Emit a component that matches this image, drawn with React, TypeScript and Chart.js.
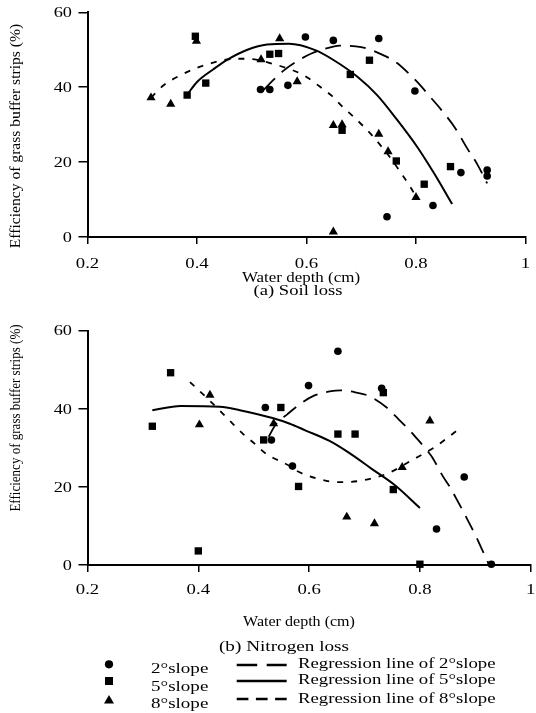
import React, { useEffect, useRef } from "react";
import { Chart, registerables } from "chart.js";

Chart.register(...registerables);

// ---------- axis ticks ----------
const X_TICKS = [0.2, 0.4, 0.6, 0.8, 1];
const X_TICK_LABELS = ["0.2", "0.4", "0.6", "0.8", "1"];
const Y_TICKS = [0, 20, 40, 60];
const Y_TICK_LABELS = ["0", "20", "40", "60"];

// ---------- (a) Soil loss : observed points ----------
const soil2X = [0.516, 0.533, 0.566, 0.598, 0.649, 0.732, 0.798, 0.882, 0.93, 0.93, 0.831, 0.747];
const soil2Y = [39.4, 39.4, 40.5, 53.4, 52.5, 53.0, 39.0, 17.2, 17.9, 16.3, 8.4, 5.4];
const soil5X = [0.397, 0.382, 0.416, 0.533, 0.549, 0.715, 0.68, 0.665, 0.764, 0.863, 0.815];
const soil5Y = [53.6, 37.9, 41.1, 48.8, 49.0, 47.2, 43.4, 28.5, 20.3, 18.8, 14.1];
const soil8X = [0.399, 0.316, 0.352, 0.551, 0.517, 0.583, 0.649, 0.665, 0.732, 0.749, 0.8, 0.649];
const soil8Y = [52.3, 37.2, 35.5, 53.0, 47.4, 41.5, 29.8, 30.0, 27.5, 22.8, 10.6, 1.4];

// ---------- (a) Soil loss : regression lines ----------
const soilReg2X = [0.522, 0.54, 0.557, 0.588, 0.609, 0.64, 0.66, 0.69, 0.711, 0.741, 0.763, 0.79, 0.808, 0.826, 0.842, 0.872, 0.893, 0.912, 0.93];
const soilReg2Y = [39.3, 42.0, 44.3, 47.4, 49.0, 50.5, 51.1, 50.9, 50.3, 48.5, 46.7, 43.2, 40.5, 37.4, 34.7, 29.0, 23.8, 19.4, 14.3];
const soilReg5X = [0.382, 0.4, 0.43, 0.455, 0.492, 0.528, 0.568, 0.616, 0.65, 0.693, 0.729, 0.766, 0.802, 0.833, 0.866];
const soilReg5Y = [38.0, 41.4, 44.8, 47.3, 50.0, 51.4, 51.6, 49.9, 47.2, 42.8, 37.9, 31.2, 24.1, 17.0, 8.8];
const soilReg8X = [0.316, 0.339, 0.37, 0.4, 0.428, 0.455, 0.483, 0.51, 0.537, 0.566, 0.595, 0.623, 0.647, 0.665, 0.686, 0.705, 0.723, 0.74, 0.757, 0.772, 0.787, 0.8];
const soilReg8Y = [37.2, 40.5, 43.2, 45.2, 46.5, 47.4, 47.6, 47.3, 46.3, 45.0, 43.2, 40.3, 37.6, 34.9, 32.1, 29.4, 26.6, 23.6, 20.4, 17.2, 14.0, 10.8];

// ---------- (b) Nitrogen loss : observed points ----------
const nit2X = [0.521, 0.532, 0.57, 0.599, 0.652, 0.731, 0.88, 0.83, 0.929];
const nit2Y = [40.3, 32.0, 25.3, 45.9, 54.7, 45.2, 22.5, 9.2, 0.2];
const nit5X = [0.317, 0.35, 0.4, 0.549, 0.518, 0.652, 0.683, 0.734, 0.752, 0.581, 0.8];
const nit5Y = [35.5, 49.2, 3.6, 40.3, 32.0, 33.5, 33.5, 44.1, 19.3, 20.1, 0.2];
const nit8X = [0.402, 0.421, 0.536, 0.668, 0.718, 0.768, 0.818];
const nit8Y = [35.9, 43.5, 36.2, 12.3, 10.6, 25.0, 36.9];

// ---------- (b) Nitrogen loss : regression lines ----------
const nitReg2X = [0.527, 0.54, 0.561, 0.585, 0.607, 0.637, 0.657, 0.686, 0.707, 0.74, 0.755, 0.779, 0.793, 0.814, 0.823, 0.841, 0.853, 0.874, 0.883, 0.904, 0.912, 0.925];
const nitReg2Y = [32.8, 36.0, 38.6, 41.3, 43.2, 44.4, 44.7, 44.1, 43.3, 40.3, 38.2, 34.8, 32.6, 29.1, 27.4, 22.8, 20.2, 14.8, 12.4, 6.5, 4.0, 0.0];
const nitReg5X = [0.317, 0.368, 0.439, 0.475, 0.534, 0.564, 0.594, 0.636, 0.671, 0.713, 0.755, 0.8];
const nitReg5Y = [39.6, 40.7, 40.5, 39.6, 37.6, 36.2, 34.4, 31.8, 28.8, 24.6, 20.4, 14.6];
const nitReg8X = [0.385, 0.421, 0.457, 0.481, 0.502, 0.523, 0.564, 0.576, 0.612, 0.654, 0.695, 0.743, 0.784, 0.826, 0.868];
const nitReg8Y = [46.8, 42.0, 36.9, 33.5, 31.0, 28.4, 25.4, 24.2, 22.2, 21.2, 21.6, 23.5, 26.7, 30.1, 34.5];

const FONT = '"Liberation Serif", "Times New Roman", serif';
const W = 536;
const H = 713;

type Geo = { top: number; bottom: number; left: number; right: number; xLabelY: number; yLabelRight: number };

const zip = (xs: number[], ys: number[]) => xs.map((x, i) => ({ x, y: ys[i] }));

function pointSet(xs: number[], ys: number[], style: string, r: number) {
  return {
    data: zip(xs, ys),
    showLine: false,
    pointStyle: style,
    pointRadius: r,
    pointHoverRadius: r,
    pointBackgroundColor: "#000",
    pointBorderColor: "#000",
    pointBorderWidth: 0,
    backgroundColor: "#000",
    borderColor: "#000",
    clip: false,
  };
}

function lineSet(xs: number[], ys: number[], dash: number[], width: number) {
  return {
    data: zip(xs, ys),
    showLine: true,
    pointRadius: 0,
    pointHoverRadius: 0,
    borderColor: "#000",
    borderWidth: width,
    borderDash: dash,
    cubicInterpolationMode: "monotone",
    fill: false,
    clip: false,
  };
}

function makeChart(canvas: HTMLCanvasElement, geo: Geo, sets: any[]) {
  const tickLabels = {
    id: "tickLabels",
    afterDraw(chart: any) {
      const ctx = chart.ctx;
      const xs = chart.scales.x;
      const ys = chart.scales.y;
      ctx.save();
      ctx.fillStyle = "#000";
      ctx.font = `15px ${FONT}`;
      ctx.textBaseline = "middle";
      X_TICKS.forEach((v, i) => {
        const px = xs.getPixelForValue(v);
        ctx.save();
        ctx.translate(px, geo.xLabelY);
        ctx.scale(1.25, 1);
        ctx.textAlign = "center";
        ctx.fillText(X_TICK_LABELS[i], 0, 0);
        ctx.restore();
      });
      Y_TICKS.forEach((v, i) => {
        const py = ys.getPixelForValue(v);
        ctx.save();
        ctx.translate(geo.yLabelRight, py + 1);
        ctx.scale(1.22, 1);
        ctx.textAlign = "right";
        ctx.fillText(Y_TICK_LABELS[i], 0, 0);
        ctx.restore();
      });
      ctx.restore();
    },
  };

  return new Chart(canvas, {
    type: "scatter",
    data: { datasets: sets },
    options: {
      animation: false,
      responsive: false,
      maintainAspectRatio: false,
      devicePixelRatio: 1,
      events: [],
      layout: { padding: { top: geo.top, right: W - geo.right, left: 0, bottom: 0 } },
      plugins: { legend: { display: false }, tooltip: { enabled: false }, title: { display: false } },
      scales: {
        x: {
          type: "linear",
          min: 0.2,
          max: 1,
          afterBuildTicks: (s: any) => {
            s.ticks = X_TICKS.map((v) => ({ value: v }));
          },
          afterFit: (s: any) => {
            s.height = H - geo.bottom;
          },
          ticks: { display: false },
          grid: { display: true, drawOnChartArea: false, drawTicks: true, tickLength: 7, color: "#000", lineWidth: 1.5 },
          border: { display: true, color: "#000", width: 2 },
        },
        y: {
          type: "linear",
          min: 0,
          max: 60,
          afterBuildTicks: (s: any) => {
            s.ticks = Y_TICKS.map((v) => ({ value: v }));
          },
          afterFit: (s: any) => {
            s.width = geo.left;
          },
          ticks: { display: false },
          grid: { display: true, drawOnChartArea: false, drawTicks: true, tickLength: 9, color: "#000", lineWidth: 1.5 },
          border: { display: true, color: "#000", width: 2 },
        },
      },
    } as any,
    plugins: [tickLabels],
  });
}

const TOP: Geo = { top: 12.3, bottom: 237, left: 87.5, right: 525.5, xLabelY: 264, yLabelRight: 72 };
const BOT: Geo = { top: 330.5, bottom: 565, left: 87.5, right: 533, xLabelY: 590.5, yLabelRight: 72 };

const textBase: React.CSSProperties = {
  position: "absolute",
  fontFamily: FONT,
  color: "#000",
  whiteSpace: "nowrap",
  lineHeight: "15px",
  fontSize: 15,
};

function CenterText(props: { x: number; y: number; s: number; size?: number; rotate?: boolean; children: any }) {
  const { x, y, s, size, rotate, children } = props;
  return (
    <div
      style={{
        ...textBase,
        fontSize: size || 15,
        lineHeight: `${size || 15}px`,
        left: x,
        top: y,
        transform: `translate(-50%, -50%)${rotate ? " rotate(-90deg)" : ""} scaleX(${s})`,
      }}
    >
      {children}
    </div>
  );
}

function LeftText(props: { x: number; y: number; s: number; children: any }) {
  const { x, y, s, children } = props;
  return (
    <div
      style={{
        ...textBase,
        left: x,
        top: y - 7.5,
        transformOrigin: "left center",
        transform: `scaleX(${s})`,
      }}
    >
      {children}
    </div>
  );
}

export default function App() {
  const topRef = useRef<HTMLCanvasElement>(null);
  const botRef = useRef<HTMLCanvasElement>(null);

  useEffect(() => {
    const c1 = makeChart(topRef.current!, TOP, [
      pointSet(soil2X, soil2Y, "circle", 3.8),
      pointSet(soil5X, soil5Y, "rect", 5.2),
      pointSet(soil8X, soil8Y, "triangle", 5.3),
      lineSet(soilReg2X, soilReg2Y, [16, 9], 1.8),
      lineSet(soilReg5X, soilReg5Y, [], 2),
      lineSet(soilReg8X, soilReg8Y, [6, 8], 1.8),
    ]);
    const c2 = makeChart(botRef.current!, BOT, [
      pointSet(nit2X, nit2Y, "circle", 3.8),
      pointSet(nit5X, nit5Y, "rect", 5.2),
      pointSet(nit8X, nit8Y, "triangle", 5.3),
      lineSet(nitReg2X, nitReg2Y, [16, 9], 1.8),
      lineSet(nitReg5X, nitReg5Y, [], 2),
      lineSet(nitReg8X, nitReg8Y, [6, 8], 1.8),
    ]);
    return () => {
      c1.destroy();
      c2.destroy();
    };
  }, []);

  const canvasStyle: React.CSSProperties = { position: "absolute", left: 0, top: 0, width: W, height: H };

  return (
    <div style={{ position: "absolute", left: 0, top: 0, width: W, height: H, overflow: "hidden", background: "#fff" }}>
      <canvas ref={topRef} width={W} height={H} style={canvasStyle} />
      <canvas ref={botRef} width={W} height={H} style={canvasStyle} />

      <CenterText x={16.2} y={135.7} s={1.115} size={14} rotate>
        Efficiency of grass buffer strips (%)
      </CenterText>
      <CenterText x={16.2} y={417.5} s={0.93} size={14} rotate>
        Efficiency of grass buffer strips (%)
      </CenterText>

      <CenterText x={301} y={277} s={1.13}>Water depth (cm)</CenterText>
      <CenterText x={297.5} y={289.5} s={1.24}>(a) Soil loss</CenterText>
      <CenterText x={299} y={621} s={1.07}>Water depth (cm)</CenterText>
      <CenterText x={283.8} y={645.6} s={1.28}>(b) Nitrogen loss</CenterText>

      <svg width={W} height={H} style={{ position: "absolute", left: 0, top: 0 }}>
        <circle cx={109} cy={664.3} r={4.1} fill="#000" />
        <rect x={105} y={677} width={8} height={8} fill="#000" />
        <polygon points="104,703.5 114,703.5 109,695" fill="#000" />
        <line x1={236.7} y1={665} x2={286.7} y2={665} stroke="#000" strokeWidth={2.6} strokeDasharray="20.5 9.5" />
        <line x1={236.7} y1={681} x2={286.7} y2={681} stroke="#000" strokeWidth={2.6} />
        <line x1={236.7} y1={699} x2={286.7} y2={699} stroke="#000" strokeWidth={2.6} strokeDasharray="11.7 7.5" />
      </svg>

      <LeftText x={150.7} y={668} s={1.27}>2°slope</LeftText>
      <LeftText x={150.7} y={686} s={1.27}>5°slope</LeftText>
      <LeftText x={150.7} y={703.5} s={1.27}>8°slope</LeftText>

      <LeftText x={298.3} y={663} s={1.25}>Regression line of 2°slope</LeftText>
      <LeftText x={298.3} y={679.5} s={1.25}>Regression line of 5°slope</LeftText>
      <LeftText x={298.3} y={698} s={1.25}>Regression line of 8°slope</LeftText>
    </div>
  );
}
